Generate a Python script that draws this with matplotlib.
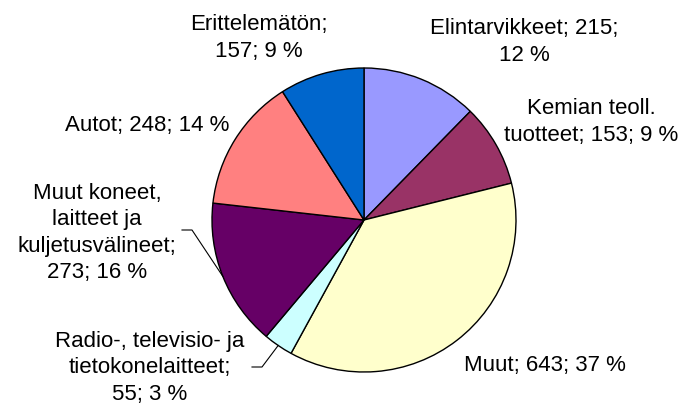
import numpy as np
import matplotlib.pyplot as plt

plt.rcParams['font.family'] = ['Liberation Sans', 'DejaVu Sans']

labels = ['Elintarvikkeet; 215;\n12 %',
          'Kemian teoll.\ntuotteet; 153; 9 %',
          'Muut; 643; 37 %',
          'Radio-, televisio- ja\ntietokonelaitteet;\n55; 3 %',
          'Muut koneet,\nlaitteet ja\nkuljetusvälineet;\n273; 16 %',
          'Autot; 248; 14 %',
          'Erittelemätön;\n157; 9 %']
values = [215, 153, 643, 55, 273, 248, 157]
colors = ['#9999FF', '#993366', '#FFFFCC', '#CCFFFF', '#660066', '#FF8080', '#0066CC']

W, H = 683, 408
# label centres in pixel coords (x, y from top)
label_pos = [(524, 42), (591, 122), (545, 366), (150, 368), (97, 233), (147, 126), (259, 38)]
# elbow of leader lines (start, bend) for the two small slices on the left
leaders = {3: [(252, 367), (262, 367)], 4: [(182, 230), (192, 230)]}

cx, cy, r = 364, 220, 152

fig = plt.figure(figsize=(W / 100, H / 100), dpi=100)
ax = fig.add_axes([0, 0, 1, 1])
ax.set_xlim(0, W)
ax.set_ylim(0, H)
ax.set_aspect('equal')
ax.axis('off')

wedges, _ = ax.pie(values, colors=colors, startangle=90, counterclock=False,
                   center=(cx, H - cy), radius=r,
                   wedgeprops=dict(edgecolor='black', linewidth=1.0))
ax.set_xlim(0, W)
ax.set_ylim(0, H)

for i, (txt, (px, py)) in enumerate(zip(labels, label_pos)):
    ax.text(px, H - py, txt, ha='center', va='center', fontsize=16,
            linespacing=1.35, color='black')

for i, pts in leaders.items():
    w = wedges[i]
    mid = np.deg2rad((w.theta1 + w.theta2) / 2)
    ex = cx + r * np.cos(mid)
    ey = (H - cy) + r * np.sin(mid)
    xs = [pts[0][0], pts[1][0], ex]
    ys = [H - pts[0][1], H - pts[1][1], ey]
    ax.plot(xs, ys, color='black', linewidth=0.8)

fig.savefig('out.png', dpi=100)
